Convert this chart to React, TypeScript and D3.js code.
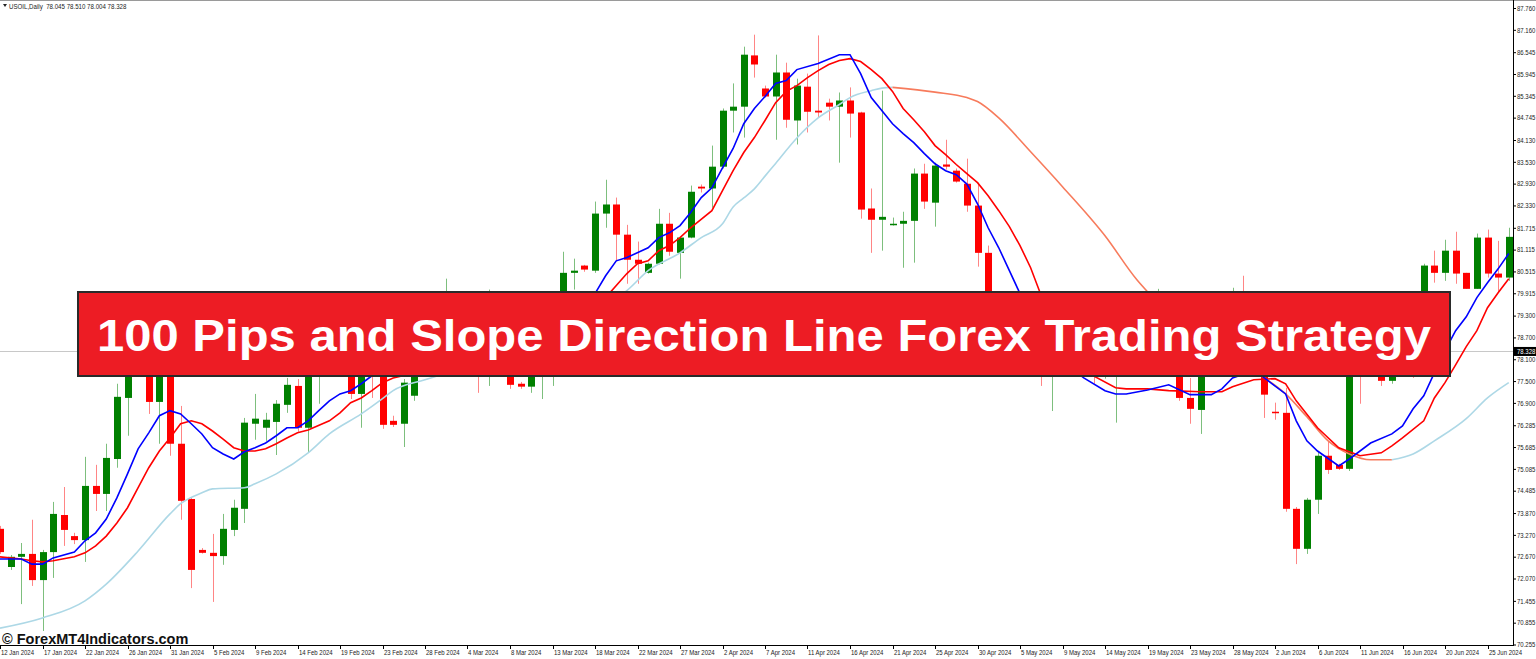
import React from "react";
import * as d3 from "d3";

// ---------- data ----------
const symbolTitle = "USOIL,Daily";
const headerPrices = ["78.045", "78.510", "78.004", "78.328"];
const bidPrice = 78.328;
const bannerTitle = "100 Pips and Slope Direction Line Forex Trading Strategy";
const watermark = "\u00A9 ForexMT4Indicators.com";

const priceTicks = [
  87.76, 87.16, 86.545, 85.945, 85.345, 84.745, 84.13, 83.53, 82.93, 82.33,
  81.715, 81.115, 80.515, 79.915, 79.3, 78.7, 78.1, 77.5, 76.9, 76.285,
  75.685, 75.085, 74.485, 73.87, 73.27, 72.67, 72.07, 71.455, 70.855, 70.255,
];

const dateLabels = [
  "12 Jan 2024", "17 Jan 2024", "22 Jan 2024", "26 Jan 2024", "31 Jan 2024",
  "5 Feb 2024", "9 Feb 2024", "14 Feb 2024", "19 Feb 2024", "23 Feb 2024",
  "28 Feb 2024", "4 Mar 2024", "8 Mar 2024", "13 Mar 2024", "18 Mar 2024",
  "22 Mar 2024", "27 Mar 2024", "2 Apr 2024", "7 Apr 2024", "11 Apr 2024",
  "16 Apr 2024", "21 Apr 2024", "25 Apr 2024", "30 Apr 2024", "5 May 2024",
  "9 May 2024", "14 May 2024", "19 May 2024", "23 May 2024", "28 May 2024",
  "2 Jun 2024", "6 Jun 2024", "11 Jun 2024", "16 Jun 2024", "20 Jun 2024",
  "25 Jun 2024",
];
const barsPerDateLabel = 4;

// daily candles: [open, high, low, close]
const candles: [number, number, number, number][] = [
  [73.45, 73.53, 72.76, 72.81], [72.40, 72.73, 72.32, 72.68], [72.68, 73.06, 71.38, 72.76],
  [72.76, 73.70, 71.88, 72.04], [72.04, 72.87, 70.64, 72.81], [72.81, 74.19, 72.10, 73.86],
  [73.83, 74.60, 72.98, 73.42], [73.25, 73.34, 73.03, 73.14], [73.14, 75.43, 72.54, 74.63],
  [74.63, 75.21, 73.94, 74.41], [74.41, 75.79, 73.94, 75.40], [75.37, 77.44, 75.13, 77.08],
  [77.05, 78.48, 76.01, 78.21], [78.21, 79.17, 77.93, 78.90], [78.90, 79.17, 76.61, 76.94],
  [76.94, 78.76, 75.79, 78.48], [78.48, 78.90, 75.46, 75.79], [75.79, 76.83, 73.70, 74.22],
  [74.27, 74.30, 71.82, 72.32], [72.87, 72.92, 72.77, 72.79], [72.79, 73.31, 71.44, 72.70],
  [72.70, 73.86, 72.46, 73.45], [73.42, 74.25, 73.25, 74.03], [74.00, 76.50, 73.61, 76.37],
  [76.34, 77.16, 75.90, 76.48], [76.23, 76.64, 75.87, 76.45], [76.39, 76.99, 75.48, 76.89],
  [76.86, 77.60, 76.64, 77.41], [77.38, 77.57, 76.12, 76.23], [76.23, 78.35, 75.54, 78.07],
  [78.07, 78.90, 76.89, 78.62], [78.62, 78.90, 77.93, 78.21], [78.21, 79.03, 78.02, 78.76],
  [78.62, 78.90, 77.02, 77.16], [77.16, 78.76, 76.23, 78.48], [78.48, 78.76, 77.05, 78.07],
  [78.07, 78.35, 76.20, 76.31], [76.42, 76.56, 76.25, 76.31], [76.34, 77.57, 75.70, 77.47],
  [77.11, 78.29, 76.97, 78.02], [78.02, 78.76, 77.80, 78.48], [78.48, 78.62, 77.93, 78.29],
  [78.29, 80.33, 78.07, 79.17], [79.17, 79.45, 78.48, 78.76], [78.76, 79.03, 78.07, 78.35],
  [78.48, 78.76, 77.19, 77.93], [77.93, 80.03, 77.38, 78.90], [78.90, 79.17, 78.07, 78.48],
  [78.48, 78.62, 77.30, 77.41], [77.44, 77.49, 77.30, 77.36], [77.36, 78.21, 77.19, 78.07],
  [78.07, 78.90, 77.02, 78.62], [78.62, 79.86, 77.38, 79.59], [79.72, 81.07, 79.45, 80.49],
  [80.49, 80.88, 80.03, 80.55], [80.69, 80.71, 80.52, 80.58], [80.55, 82.45, 80.49, 82.12],
  [82.12, 83.05, 81.73, 82.37], [82.37, 82.56, 80.82, 81.54], [81.54, 81.81, 80.19, 80.85],
  [80.85, 81.35, 80.19, 80.74], [80.49, 80.77, 80.47, 80.74], [80.74, 82.25, 80.72, 81.84],
  [81.84, 82.14, 80.96, 81.07], [81.04, 81.48, 80.33, 81.46], [81.46, 82.89, 81.44, 82.72],
  [82.86, 82.92, 82.70, 82.81], [82.81, 83.99, 82.28, 83.41], [83.41, 85.01, 83.36, 84.95],
  [84.95, 85.70, 84.35, 85.06], [85.06, 86.71, 84.21, 86.49], [86.47, 87.04, 85.86, 86.22],
  [85.56, 85.64, 85.31, 85.34], [85.34, 86.49, 84.15, 86.00], [86.00, 86.27, 84.48, 84.70],
  [84.68, 85.83, 84.02, 85.64], [85.61, 85.97, 84.35, 84.92], [84.95, 87.02, 84.76, 84.90],
  [85.17, 85.28, 84.68, 85.06], [85.06, 85.45, 83.52, 85.23], [85.23, 85.59, 84.21, 84.87],
  [84.90, 84.92, 81.98, 82.23], [82.26, 82.81, 81.04, 81.95], [81.95, 85.50, 81.10, 82.03],
  [81.81, 82.01, 81.79, 81.84], [81.84, 82.17, 80.63, 81.92], [81.92, 83.36, 80.77, 83.22],
  [83.22, 83.49, 82.25, 82.45], [82.42, 83.52, 81.76, 83.44], [83.47, 84.15, 83.33, 83.41],
  [83.30, 83.36, 82.97, 83.00], [82.94, 83.63, 82.17, 82.34], [82.34, 82.97, 80.66, 81.04],
  [81.04, 81.24, 79.17, 79.45], [79.45, 79.72, 78.35, 78.62], [78.62, 79.17, 77.93, 78.21],
  [78.21, 78.90, 78.02, 78.62], [78.62, 78.84, 78.13, 78.35], [78.35, 78.62, 77.38, 77.85],
  [77.85, 78.76, 76.69, 78.48], [78.48, 78.90, 77.93, 78.21], [78.21, 79.03, 78.02, 78.62],
  [78.62, 78.90, 78.07, 78.29], [78.29, 78.48, 77.44, 77.80], [77.80, 78.29, 77.58, 78.07],
  [77.93, 78.68, 76.37, 78.48], [78.48, 78.76, 77.93, 78.21], [78.21, 79.03, 78.07, 78.76],
  [78.76, 79.17, 78.29, 78.48], [78.48, 80.05, 78.21, 79.17], [79.17, 79.39, 78.35, 78.62],
  [78.62, 78.90, 76.97, 77.05], [77.05, 77.60, 76.34, 76.75], [76.72, 78.62, 76.06, 78.35],
  [78.35, 79.17, 78.13, 78.90], [78.90, 79.17, 78.35, 78.62], [78.62, 80.08, 78.35, 79.97],
  [79.97, 80.41, 78.35, 78.62], [78.62, 78.90, 77.80, 78.07], [78.07, 78.35, 76.50, 77.14],
  [76.67, 76.92, 76.45, 76.64], [76.64, 77.33, 73.92, 74.00], [74.00, 74.05, 72.48, 72.90],
  [72.90, 74.30, 72.76, 74.25], [74.25, 75.59, 73.86, 75.46], [75.46, 75.84, 74.96, 75.07],
  [75.21, 75.24, 75.07, 75.10], [75.10, 79.03, 75.04, 78.90], [78.90, 79.31, 76.89, 78.48],
  [78.48, 78.90, 78.29, 78.76], [78.21, 78.48, 77.38, 77.52], [77.52, 78.35, 77.44, 78.07],
  [78.07, 78.90, 77.93, 78.62], [78.62, 78.90, 77.60, 78.35], [78.35, 80.74, 78.21, 80.69],
  [80.69, 81.10, 80.22, 80.49], [80.49, 81.40, 80.27, 81.10], [81.10, 81.62, 80.19, 80.47],
  [80.49, 80.49, 80.05, 80.05], [80.05, 81.57, 80.05, 81.46], [81.46, 81.68, 80.36, 80.47],
  [80.47, 81.37, 79.94, 80.36], [80.36, 81.73, 80.27, 81.48],
];

// indicator lines: [bar index, price]
const fastLine: [number, number][] = [
  [0, 72.62], [2, 72.62], [3, 72.48], [4, 72.48], [5, 72.65], [7, 72.81], [8, 73.12], [9, 73.34],
  [10, 73.72], [11, 74.30], [12, 74.96], [13, 75.65], [14, 76.09], [15, 76.56], [16, 76.70],
  [17, 76.61], [18, 76.34], [19, 76.06], [20, 75.68], [21, 75.51], [22, 75.37], [23, 75.57],
  [24, 75.68], [25, 75.81], [26, 76.01], [27, 76.23], [28, 76.23], [29, 76.42], [30, 76.70],
  [31, 76.97], [32, 77.16], [33, 77.25], [34, 77.44], [35, 77.66], [38, 78.0], [42, 78.3],
  [47, 78.6], [52, 78.9], [55, 79.5], [56, 79.92], [57, 80.41], [58, 80.82], [59, 80.91],
  [61, 81.18], [62, 81.46], [63, 81.59], [64, 81.79], [65, 82.15], [66, 82.56], [67, 82.83],
  [68, 83.38], [69, 83.91], [70, 84.59], [71, 85.01], [72, 85.34], [73, 85.70], [74, 85.78],
  [75, 86.08], [77, 86.25], [79, 86.49], [80, 86.49], [81, 85.97], [82, 85.31], [84, 84.59],
  [85, 84.32], [86, 84.07], [87, 83.77], [88, 83.49], [89, 83.30], [90, 83.19], [91, 82.93],
  [92, 82.39], [93, 81.73], [94, 81.18], [95, 80.55], [96, 79.92], [98, 78.76], [100, 78.07],
  [102, 77.60], [104, 77.25], [105, 77.16], [106, 77.16], [108, 77.27], [110, 77.41],
  [112, 77.14], [114, 77.14], [115, 77.30], [116, 77.60], [118, 77.80], [119, 77.60],
  [121, 77.16], [122, 76.42], [123, 75.87], [124, 75.59], [126, 75.18], [127, 75.37],
  [129, 75.81], [131, 76.06], [132, 76.28], [133, 76.75], [134, 77.11], [135, 77.74],
  [136, 78.35], [137, 78.90], [138, 79.28], [139, 79.81], [140, 80.22], [141, 80.60], [142, 81.02],
];

const midLine: [number, number][] = [
  [0, 72.68], [2, 72.62], [3, 72.57], [4, 72.54], [5, 72.57], [7, 72.68], [8, 72.79], [9, 72.98],
  [10, 73.25], [11, 73.61], [12, 74.03], [13, 74.58], [14, 75.13], [15, 75.59], [16, 75.95],
  [17, 76.34], [18, 76.42], [19, 76.34], [20, 76.14], [21, 75.92], [22, 75.68], [23, 75.59],
  [24, 75.59], [25, 75.65], [26, 75.79], [27, 75.95], [28, 76.09], [29, 76.17], [31, 76.42],
  [32, 76.64], [33, 76.92], [34, 77.05], [35, 77.25], [36, 77.47], [37, 77.60], [40, 77.80],
  [45, 78.21], [50, 78.62], [54, 79.31], [57, 79.81], [59, 80.47], [60, 80.74], [61, 80.82],
  [62, 81.10], [63, 81.24], [64, 81.46], [65, 81.73], [67, 82.20], [68, 82.75], [69, 83.30],
  [70, 83.80], [71, 84.21], [72, 84.68], [73, 85.17], [74, 85.48], [75, 85.64], [76, 85.86],
  [77, 86.05], [78, 86.22], [79, 86.33], [80, 86.38], [81, 86.30], [82, 86.08], [83, 85.83],
  [84, 85.48], [85, 85.01], [86, 84.70], [87, 84.37], [88, 83.99], [89, 83.74], [90, 83.47],
  [91, 83.22], [92, 82.97], [93, 82.61], [94, 82.20], [95, 81.76], [96, 81.24], [97, 80.63],
  [98, 79.86], [100, 78.62], [102, 77.80], [105, 77.33], [106, 77.30], [108, 77.30],
  [110, 77.25], [113, 77.22], [115, 77.22], [116, 77.36], [118, 77.55], [120, 77.58],
  [121, 77.44], [122, 76.97], [124, 76.23], [126, 75.68], [128, 75.46], [130, 75.54],
  [131, 75.73], [132, 75.95], [134, 76.42], [135, 77.05], [136, 77.47], [137, 77.96],
  [138, 78.46], [139, 78.90], [140, 79.53], [141, 79.94], [142, 80.33],
];

const slowLine: [number, number][] = [
  [0, 70.72], [4, 71.00], [8, 71.47], [10, 71.93], [13, 72.84], [16, 73.86], [17, 74.14],
  [19, 74.44], [20, 74.55], [23, 74.58], [24, 74.69], [26, 74.96], [29, 75.54], [31, 76.06],
  [34, 76.61], [36, 77.03], [37, 77.25], [40, 77.55], [45, 78.02], [50, 78.62], [55, 79.31],
  [59, 80.00], [61, 80.55], [64, 81.04], [66, 81.46], [68, 81.84], [69, 82.30], [70, 82.55],
  [71, 82.80], [72, 83.15], [73, 83.50], [75, 84.20], [77, 84.75], [79, 85.12], [80, 85.31],
  [82, 85.50], [83, 85.57], [84, 85.59], [88, 85.46], [91, 85.31], [92, 85.20], [94, 84.75],
  [97, 83.82], [100, 82.86], [104, 81.51], [107, 80.30], [108, 79.97], [112, 78.85],
  [116, 78.05], [119, 77.60], [121, 77.16], [123, 76.53], [125, 75.87], [127, 75.51],
  [129, 75.35], [131, 75.35], [133, 75.51], [135, 75.87], [138, 76.48], [140, 77.05], [142, 77.47],
];

// ---------- styles ----------
const W = 1536;
const H = 659;
const AXIS_X = 1513;
const AXIS_Y = 645;
const BAR_STEP = 10.625;
const BULL = "#008000";
const BEAR = "#ff0000";
const BULL_WICK = "#7dbf7d";
const BEAR_WICK = "#ff8585";
const UP_COLOR = "#add8e6";
const DOWN_COLOR = "#f77b5c";
const AXIS_FONT = "'Liberation Sans', Arial, sans-serif";

export default function App() {
  const x = d3.scaleLinear().domain([0, 142]).range([0, 142 * BAR_STEP]);
  const y = d3.scaleLinear().domain([70.255, 87.76]).range([AXIS_Y, 8.5]);

  const lineGen = d3
    .line<[number, number]>()
    .x((d) => x(d[0]))
    .y((d) => y(d[1]))
    .curve(d3.curveLinear);
  const smoothGen = d3
    .line<[number, number]>()
    .x((d) => x(d[0]))
    .y((d) => y(d[1]))
    .curve(d3.curveMonotoneX);

  // split slow line into rising (light blue) and falling (salmon) runs
  const slowRuns: { color: string; pts: [number, number][] }[] = [];
  let prev = UP_COLOR;
  for (let k = 0; k < slowLine.length - 1; k++) {
    const a = slowLine[k];
    const b = slowLine[k + 1];
    const c = b[1] > a[1] ? UP_COLOR : b[1] < a[1] ? DOWN_COLOR : prev;
    prev = c;
    const last = slowRuns[slowRuns.length - 1];
    if (last && last.color === c) last.pts.push(b);
    else slowRuns.push({ color: c, pts: [a, b] });
  }

  const bidY = y(bidPrice);

  return (
    <svg
      width={W}
      height={H}
      style={{ position: "absolute", left: 0, top: 0, background: "#fff" }}
      xmlns="http://www.w3.org/2000/svg"
    >
      <defs>
        <clipPath id="plot">
          <rect x={0} y={0} width={AXIS_X} height={AXIS_Y} />
        </clipPath>
      </defs>
      <rect x={0} y={0} width={W} height={H} fill="#fff" />
      <line x1={0} x2={W} y1={0.5} y2={0.5} stroke="#9a9a9a" />

      {/* bid line */}
      <line x1={0} x2={AXIS_X} y1={Math.round(bidY) + 0.5} y2={Math.round(bidY) + 0.5} stroke="#c8c8c8" />

      <g clipPath="url(#plot)">
        {candles.map((c, i) => {
          const [o, h, l, cl] = c;
          const cx = Math.round(x(i));
          const bull = cl >= o;
          const top = y(Math.max(o, cl));
          const bot = y(Math.min(o, cl));
          return (
            <g key={i}>
              <line
                x1={cx + 0.5}
                x2={cx + 0.5}
                y1={y(h)}
                y2={y(l)}
                stroke={bull ? BULL_WICK : BEAR_WICK}
                strokeWidth={1}
              />
              <rect
                x={cx - 3}
                y={top}
                width={7}
                height={Math.max(1.5, bot - top)}
                fill={bull ? BULL : BEAR}
              />
            </g>
          );
        })}

        {slowRuns.map((r, k) => (
          <path key={k} d={smoothGen(r.pts) || ""} fill="none" stroke={r.color} strokeWidth={1.6} />
        ))}
        <path d={lineGen(midLine) || ""} fill="none" stroke="#ff0000" strokeWidth={1.6} />
        <path d={lineGen(fastLine) || ""} fill="none" stroke="#0000ff" strokeWidth={1.6} />
      </g>

      {/* axes */}
      <line x1={AXIS_X + 0.5} x2={AXIS_X + 0.5} y1={0} y2={AXIS_Y + 1} stroke="#000" />
      <line x1={0} x2={AXIS_X + 1} y1={AXIS_Y + 0.5} y2={AXIS_Y + 0.5} stroke="#000" />

      {priceTicks.map((p) => {
        const py = y(p);
        return (
          <g key={p}>
            <line x1={AXIS_X} x2={AXIS_X + 3} y1={py} y2={py} stroke="#000" />
            <text
              transform={`translate(${AXIS_X + 4},${py + 2.3}) scale(0.8,1)`}
              fontFamily={AXIS_FONT}
              fontSize={7.5}
              fill="#222"
            >
              {p.toFixed(3)}
            </text>
          </g>
        );
      })}

      {/* current price label */}
      <rect x={AXIS_X + 1} y={bidY - 4.5} width={W - AXIS_X - 1} height={9} fill="#000" />
      <text
        transform={`translate(${AXIS_X + 4},${bidY + 2.5}) scale(0.8,1)`}
        fontFamily={AXIS_FONT}
        fontSize={7.5}
        fill="#fff"
      >
        {bidPrice.toFixed(3)}
      </text>

      {dateLabels.map((lab, k) => {
        const tx = Math.round(x(k * barsPerDateLabel)) + 0.5;
        return (
          <g key={lab}>
            <line x1={tx} x2={tx} y1={AXIS_Y} y2={AXIS_Y + 4} stroke="#000" />
            <text
              transform={`translate(${tx + 0.5},${AXIS_Y + 10}) scale(0.8,1)`}
              fontFamily={AXIS_FONT}
              fontSize={7.5}
              fill="#222"
            >
              {lab}
            </text>
          </g>
        );
      })}

      {/* header */}
      <path d="M3,4 L7,4 L5,7 Z" fill="#222" />
      <text
        transform="translate(9,9) scale(0.82,1)"
        fontFamily={AXIS_FONT}
        fontSize={7.5}
        fill="#222"
        style={{ whiteSpace: "pre" }}
      >
        {symbolTitle + "  " + headerPrices.join(" ")}
      </text>

      {/* watermark */}
      <text x={2} y={644} fontFamily="'Liberation Sans', Arial, sans-serif" fontWeight="bold" fontSize={14.5} fill="#111">
        {watermark}
      </text>

      {/* title banner */}
      <rect x={78} y={292} width={1372} height={84} fill="#ed1c24" stroke="#2a2a2a" strokeWidth={2} />
      <text
        x={97}
        y={351}
        fontFamily="'Liberation Sans', Arial, sans-serif"
        fontWeight="bold"
        fontSize={44}
        fill="#fff"
        textLength={1334}
        lengthAdjust="spacingAndGlyphs"
      >
        {bannerTitle}
      </text>
    </svg>
  );
}
